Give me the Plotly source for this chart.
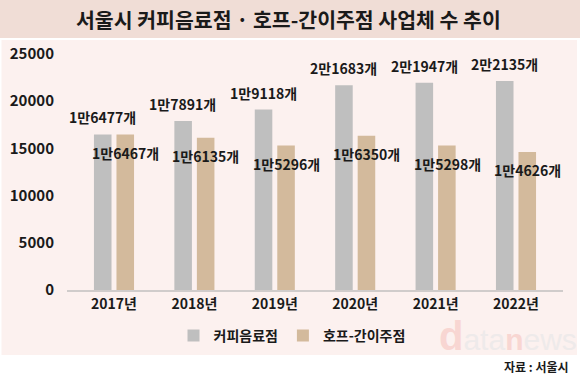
import plotly.graph_objects as go

years = ["2017년", "2018년", "2019년", "2020년", "2021년", "2022년"]
coffee = [16477, 17891, 19118, 21683, 21947, 22135]
hof = [16467, 16135, 15296, 16350, 15298, 14626]
coffee_labels = ["1만6477개", "1만7891개", "1만9118개", "2만1683개", "2만1947개", "2만2135개"]
hof_labels = ["1만6467개", "1만6135개", "1만5296개", "1만6350개", "1만5298개", "1만4626개"]
y_ticks = [0, 5000, 10000, 15000, 20000, 25000]

FONT = "Noto Sans CJK KR"
WT = 700
W, H = 580, 382
L, R, T, B = 67, 17, 54, 92
PW, PH = W - L - R, H - T - B

def px(x):
    return (x - L) / PW

def py(y):
    return (H - B - y) / PH

fig = go.Figure()
fig.add_trace(go.Bar(x=years, y=coffee, name="커피음료점", marker=dict(color="#bfbfbf", line=dict(width=0))))
fig.add_trace(go.Bar(x=years, y=hof, name="호프-간이주점", marker=dict(color="#d3ba9c", line=dict(width=0))))

lab_font = dict(family=FONT, size=14, color="#1a1a1a", weight=WT)
ann = []
for yr, v, t in zip(years, coffee, coffee_labels):
    ann.append(dict(x=yr, y=v, text=t, xref="x", yref="y", showarrow=False, xshift=-11.5,
                    yanchor="bottom", yshift=5, font=lab_font))
for yr, v, t in zip(years, hof, hof_labels):
    ann.append(dict(x=yr, y=v, text=t, xref="x", yref="y", showarrow=False, xshift=11.5,
                    yanchor="top", yshift=-6, font=lab_font))

ann.append(dict(x=px(288), y=py(19), xref="paper", yref="paper", showarrow=False,
                text="서울시 커피음료점 · 호프-간이주점 사업체 수 추이", xanchor="center", yanchor="middle",
                font=dict(family=FONT, size=20.5, color="#1a1a1a", weight=WT)))
ann.append(dict(x=px(571), y=py(366), xref="paper", yref="paper", showarrow=False,
                text="<b>자료 : 서울시</b>", xanchor="right", yanchor="middle",
                font=dict(family=FONT, size=12, color="#1a1a1a")))
ann.append(dict(x=px(508), y=py(336), xref="paper", yref="paper", showarrow=False,
                text="<span style='color:#f8d6d2;font-size:40px'><b>d</b></span>ata<span style='color:#f8d6d2'><b>n</b></span>ews",
                xanchor="center", yanchor="middle",
                font=dict(family="Liberation Sans", size=30, color="#eeeaea")))

shapes = [
    dict(type="rect", xref="paper", yref="paper", x0=px(0), x1=px(580), y0=py(0), y1=py(38),
         fillcolor="#f0ddd6", line=dict(width=0), layer="below"),
    dict(type="rect", xref="paper", yref="paper", x0=px(1.5), x1=px(577), y0=py(40), y1=py(355),
         fillcolor="#fcf1ef", line=dict(width=0), layer="below"),
]

fig.update_layout(
    width=W, height=H,
    margin=dict(l=L, r=R, t=T, b=B, autoexpand=False),
    paper_bgcolor="white", plot_bgcolor="rgba(0,0,0,0)",
    barmode="group", bargap=0.44, bargroupgap=0.22,
    showlegend=True,
    legend=dict(orientation="h", x=px(292), y=py(336), xanchor="center", yanchor="middle",
                font=dict(family=FONT, size=14, color="#1a1a1a", weight=WT), bgcolor="rgba(0,0,0,0)",
                itemwidth=30, traceorder="normal"),
    annotations=ann, shapes=shapes,
    font=dict(family=FONT),
    hovermode=False,
)
fig.update_xaxes(showline=True, linecolor="#d0cccb", linewidth=1.5, ticks="", showgrid=False,
                 automargin=False,
                 tickfont=dict(family=FONT, size=14, color="#1a1a1a", weight=WT))
fig.update_yaxes(range=[0, 25000], tickvals=y_ticks, ticktext=[str(v) for v in y_ticks],
                 showgrid=False, zeroline=False, showline=False, ticks="outside", ticklen=9,
                 automargin=False,
                 tickcolor="rgba(0,0,0,0)", tickfont=dict(family=FONT, size=15, color="#1a1a1a", weight=WT))

fig.write_html("out.html", config={"displayModeBar": False},
               post_script="document.body.style.margin='0';document.body.style.overflow='hidden';")
